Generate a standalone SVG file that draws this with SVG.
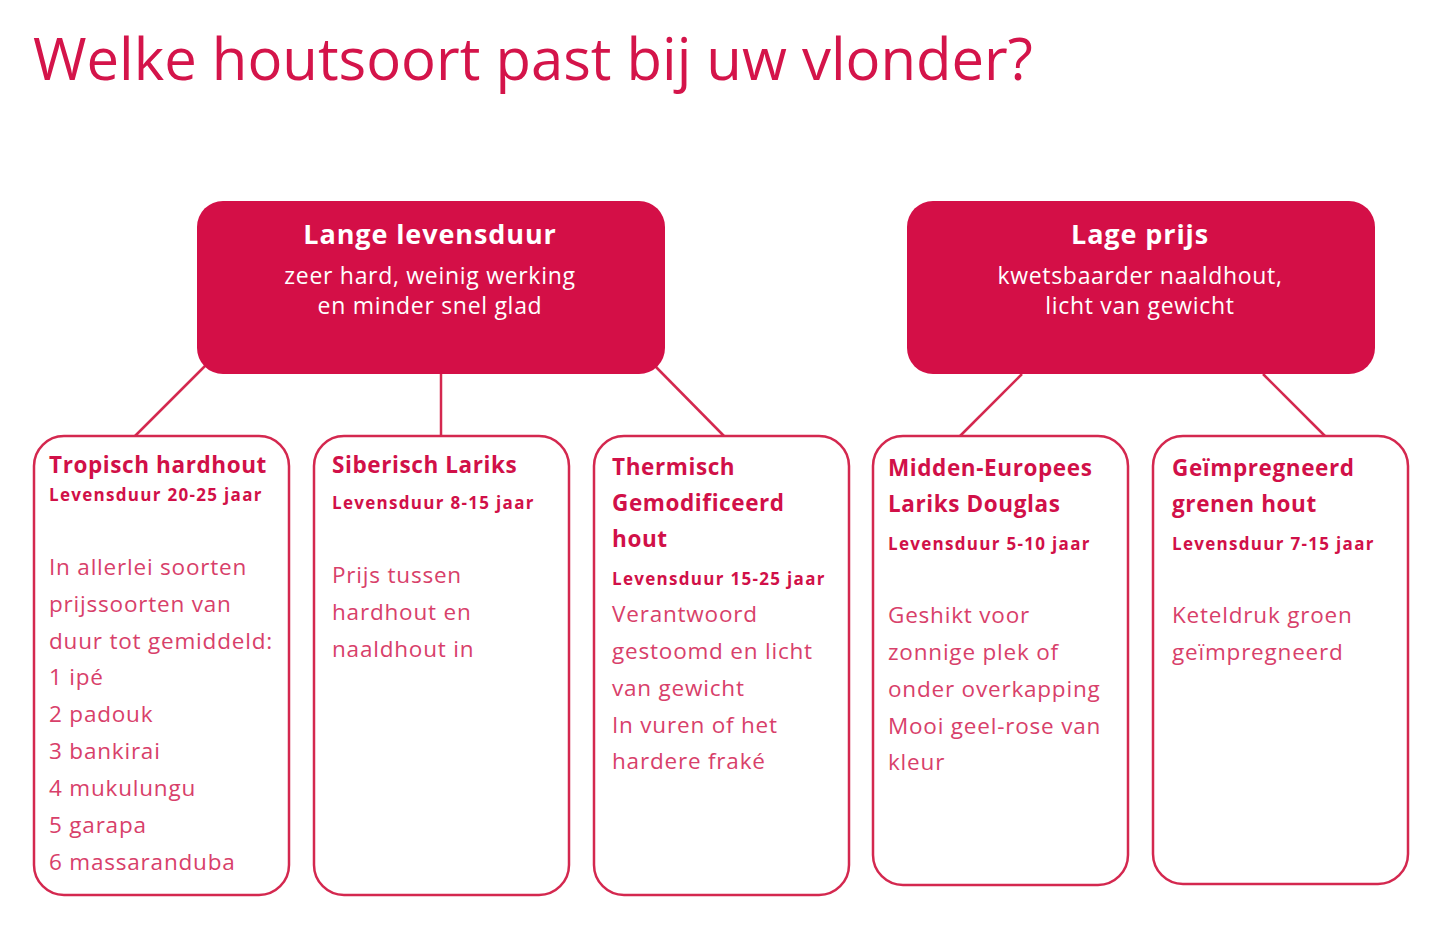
<svg xmlns="http://www.w3.org/2000/svg" width="1440" height="943" viewBox="0 0 1440 943">
<style>
.title{font-family:"Open Sans","Liberation Sans",sans-serif;font-weight:400;font-size:58px;fill:#D4144A}
.hbox{fill:#D40F47}
.cbox{fill:#fff;stroke:#D4284F;stroke-width:2.5}
.conn{stroke:#D4284F;stroke-width:2.5;fill:none}
.ht{font-family:"Open Sans","Liberation Sans",sans-serif;font-weight:700;font-size:27px;letter-spacing:0.9px;fill:#fff;text-anchor:middle}
.hs{font-family:"Open Sans","Liberation Sans",sans-serif;font-weight:400;font-size:23px;letter-spacing:0.7px;fill:#fff;text-anchor:middle}
.ct{font-family:"Open Sans","Liberation Sans",sans-serif;font-weight:700;font-size:22.5px;letter-spacing:0.6px;fill:#D11048}
.cl{font-family:"Open Sans","Liberation Sans",sans-serif;font-weight:700;font-size:17px;letter-spacing:1.3px;fill:#D11048}
.cb{font-family:"Open Sans","Liberation Sans",sans-serif;font-weight:400;font-size:22.5px;letter-spacing:0.8px;fill:#D8406A}
</style>
<rect width="1440" height="943" fill="#fff"/>
<text class="title" x="33" y="80">Welke houtsoort past bij uw vlonder?</text>
<g id="connectors">
<line class="conn" x1="205" y1="366" x2="135" y2="436"/>
<line class="conn" x1="441" y1="374" x2="441" y2="436"/>
<line class="conn" x1="655" y1="366" x2="724" y2="436"/>
<line class="conn" x1="1022" y1="374" x2="960" y2="436"/>
<line class="conn" x1="1263" y1="374" x2="1325" y2="436"/>
</g>
<g id="lange-levensduur">
<rect class="hbox" x="197" y="201" width="468" height="173" rx="26"/>
<text class="ht" x="430" y="244">Lange levensduur</text>
<text class="hs" x="430" y="284">zeer hard, weinig werking</text>
<text class="hs" x="430" y="314">en minder snel glad</text>
</g>
<g id="lage-prijs">
<rect class="hbox" x="907" y="201" width="468" height="173" rx="26"/>
<text class="ht" x="1140" y="244">Lage prijs</text>
<text class="hs" x="1140" y="284">kwetsbaarder naaldhout,</text>
<text class="hs" x="1140" y="314">licht van gewicht</text>
</g>
<g id="tropisch-hardhout">
<rect class="cbox" x="34" y="436" width="255" height="459" rx="30"/>
<text class="ct" x="49" y="473">Tropisch hardhout</text>
<text class="cl" x="49" y="501">Levensduur 20-25 jaar</text>
<text class="cb" x="49" y="575">In allerlei soorten</text>
<text class="cb" x="49" y="612">prijssoorten van</text>
<text class="cb" x="49" y="649">duur tot gemiddeld:</text>
<text class="cb" x="49" y="685">1 ipé</text>
<text class="cb" x="49" y="722">2 padouk</text>
<text class="cb" x="49" y="759">3 bankirai</text>
<text class="cb" x="49" y="796">4 mukulungu</text>
<text class="cb" x="49" y="833">5 garapa</text>
<text class="cb" x="49" y="870">6 massaranduba</text>
</g>
<g id="siberisch-lariks">
<rect class="cbox" x="314" y="436" width="255" height="459" rx="30"/>
<text class="ct" x="332" y="473">Siberisch Lariks</text>
<text class="cl" x="332" y="509">Levensduur 8-15 jaar</text>
<text class="cb" x="332" y="583">Prijs tussen</text>
<text class="cb" x="332" y="620">hardhout en</text>
<text class="cb" x="332" y="657">naaldhout in</text>
</g>
<g id="thermisch-gemodificeerd">
<rect class="cbox" x="594" y="436" width="255" height="459" rx="30"/>
<text class="ct" x="612" y="475">Thermisch</text>
<text class="ct" x="612" y="511">Gemodificeerd</text>
<text class="ct" x="612" y="547">hout</text>
<text class="cl" x="612" y="585">Levensduur 15-25 jaar</text>
<text class="cb" x="612" y="622">Verantwoord</text>
<text class="cb" x="612" y="659">gestoomd en licht</text>
<text class="cb" x="612" y="696">van gewicht</text>
<text class="cb" x="612" y="733">In vuren of het</text>
<text class="cb" x="612" y="769">hardere fraké</text>
</g>
<g id="midden-europees">
<rect class="cbox" x="873" y="436" width="255" height="449" rx="30"/>
<text class="ct" x="888" y="476">Midden-Europees</text>
<text class="ct" x="888" y="512">Lariks Douglas</text>
<text class="cl" x="888" y="550">Levensduur 5-10 jaar</text>
<text class="cb" x="888" y="623">Geshikt voor</text>
<text class="cb" x="888" y="660">zonnige plek of</text>
<text class="cb" x="888" y="697">onder overkapping</text>
<text class="cb" x="888" y="734">Mooi geel-rose van</text>
<text class="cb" x="888" y="770">kleur</text>
</g>
<g id="geimpregneerd-grenen">
<rect class="cbox" x="1153" y="436" width="255" height="448" rx="30"/>
<text class="ct" x="1172" y="476">Geïmpregneerd</text>
<text class="ct" x="1172" y="512">grenen hout</text>
<text class="cl" x="1172" y="550">Levensduur 7-15 jaar</text>
<text class="cb" x="1172" y="623">Keteldruk groen</text>
<text class="cb" x="1172" y="660">geïmpregneerd</text>
</g>
</svg>
